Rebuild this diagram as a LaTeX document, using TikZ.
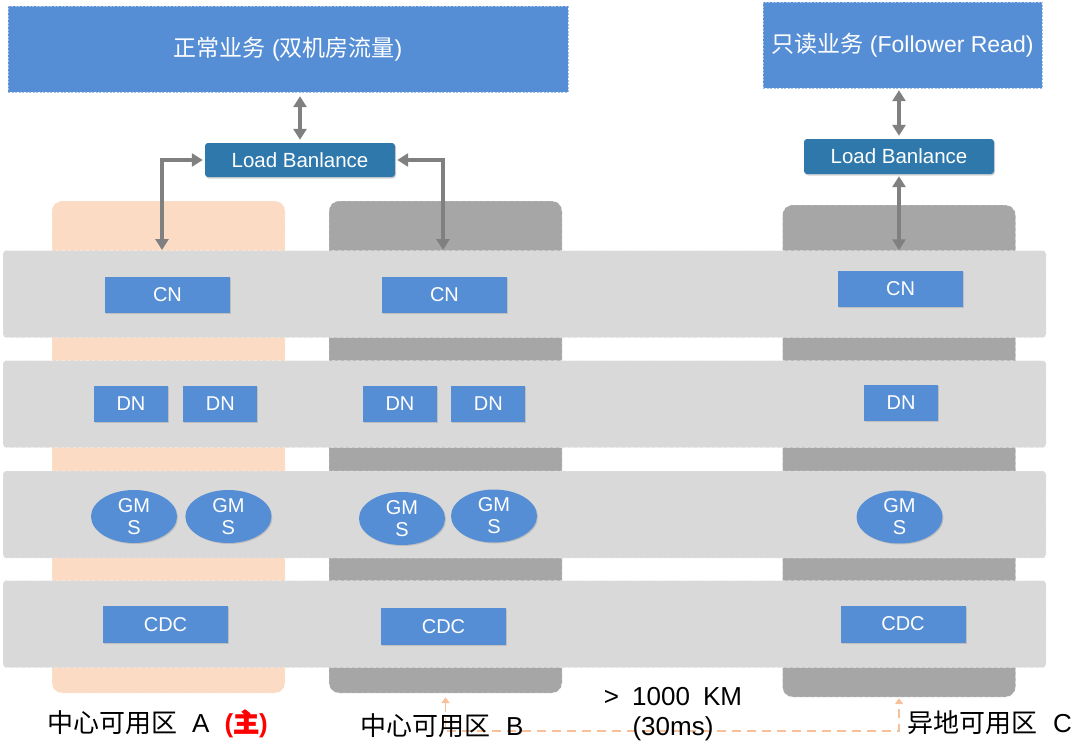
\documentclass[tikz,border=0pt]{standalone}
\usepackage{fontspec}
\setmainfont{Liberation Sans}
\newfontfamily\cjk{Noto Sans CJK SC}
\newfontfamily\cjkbold[FakeBold=2]{Noto Sans CJK SC}
\usepackage{tikz}
\usetikzlibrary{positioning,calc,shapes.geometric,arrows.meta,shadows}
\definecolor{myblue}{RGB}{85,142,213}
\definecolor{mylbblue}{RGB}{46,120,172}
\definecolor{mylayer}{RGB}{217,217,217}
\definecolor{myorange}{RGB}{251,219,195}
\definecolor{myzone}{RGB}{166,166,166}
\definecolor{myarrow}{RGB}{128,128,128}
\definecolor{mydist}{RGB}{247,192,152}
\newcommand*\nodefont{\fontsize{20}{22}\selectfont}
\newcommand*\labelfont{\fontsize{26}{30}\selectfont}
\newcommand*\zonegap{15pt}
\tikzstyle{biz}=[draw=myblue!55!white,dash pattern=on 2pt off 1.5pt,fill=myblue,text=white,font=\fontsize{23}{27}\selectfont,minimum height=86,inner sep=0pt]
\tikzstyle{lb}=[fill=mylbblue,rounded corners=3pt,text=white,font=\fontsize{20.5}{22}\selectfont,minimum width=190,minimum height=34,inner sep=0pt,drop shadow={opacity=0.35,shadow xshift=1pt,shadow yshift=-1.5pt}]
\tikzstyle{comp}=[fill=myblue,text=white,font=\nodefont,minimum width=125,minimum height=36,inner sep=0pt,drop shadow={opacity=0.3,shadow xshift=1pt,shadow yshift=-1pt}]
\tikzstyle{dn}=[comp,minimum width=74]
\tikzstyle{gms}=[comp,ellipse,minimum width=86,minimum height=53,align=center]
\tikzstyle{layer}=[draw=white,dashed,thin,fill=mylayer,rounded corners=3pt,minimum width=1043,minimum height=87]
\tikzstyle{zone}=[draw=white,dashed,thin,rounded corners=10pt,minimum width=233,minimum height=492]
\tikzstyle{arr}=[{Triangle[width=13pt,length=11pt]}-{Triangle[width=13pt,length=11pt]},line width=3.5pt,draw=myarrow]
\tikzstyle{dist}=[{Triangle[width=8pt,length=6pt]}-{Triangle[width=8pt,length=6pt]},line width=1.8pt,draw=mydist,dash pattern=on 9pt off 6pt]
\tikzstyle{zonelabel}=[font=\labelfont,inner sep=0pt,anchor=base west]

\begin{document}
\begin{tikzpicture}[x=1pt,y=-1pt]
      \useasboundingbox (0,0) rectangle (1080,747);
      % availability zones
      \node (zoneA) [zone, fill=myorange] at (168.5,447) {};
      \node (zoneB) [zone, fill=myzone] at (445.5,447) {};
      \node (zoneC) [zone, fill=myzone] at (899,451) {};
      % layers
      \foreach \y [count=\i] in {294,404,514.5,624}
        \node (L\i) [layer] at (524.5,\y) {};
      % business and load balance
      \node (bizA) [biz, minimum width=560] at (288,49) {{\cjk 正常业务} ({\cjk 双机房流量})};
      \node (bizB) [biz, minimum width=279] at (902.5,45) {{\cjk 只读业务} (Follower Read)};
      \node (lbA) [lb] at (300,160) {Load Banlance};
      \node (lbC) [lb, minimum height=35] at (899,156.5) {Load Banlance};
      % CN
      \node (CNA) [comp] at (167.5,295) {CN};
      \node (CNB) [comp] at (444.5,294.5) {CN};
      \node (CNC) [comp] at (900.5,289) {CN};
      % DN
      \node (DNA1) [dn] at (131,404) {DN};
      \node (DNA2) [dn, right=\zonegap of DNA1] {DN};
      \node (DNB1) [dn] at (400,404) {DN};
      \node (DNB2) [dn, right=14pt of DNB1] {DN};
      \node (DNC) [dn] at (901,403) {DN};
      % GMS
      \node (GMSA1) [gms] at (134,516.5) {GM\\S};
      \node (GMSA2) [gms, right=8pt of GMSA1] {GM\\S};
      \node (GMSB1) [gms] at (402,518.5) {GM\\S};
      \node (GMSB2) [gms] at (494,516) {GM\\S};
      \node (GMSC) [gms] at (899.5,517) {GM\\S};
      % CDC
      \node (CDCA) [comp, minimum height=37] at (165.5,624.5) {CDC};
      \node (CDCB) [comp, minimum height=37] at (443.5,626.5) {CDC};
      \node (CDCC) [comp, minimum height=37] at (903,624) {CDC};
      % arrows
      \coordinate (inA) at (162,250);
      \coordinate (inB) at (443,250);
      \draw[arr, shorten <=3pt, shorten >=4pt] (lbA.north) -- (lbA.north |- bizA.south);
      \draw[arr, shorten <=2pt] (lbA.west) -| (inA);
      \draw[arr, shorten <=2pt] (lbA.east) -| (inB);
      \draw[arr, shorten <=3pt, shorten >=2pt] (lbC.north) -- (lbC.north |- bizB.south);
      \draw[arr, shorten <=2pt] (lbC.south) -- (lbC.south |- L1.north);
      % distance
      \draw[dist, shorten <=4pt, shorten >=1pt] (zoneB.south) -- ++(0,38) -| (zoneC.south);
      \node (dkm) [font=\labelfont, align=center, inner sep=0pt, anchor=base] at (673,735) {>\hspace{0.5em}1000\hspace{0.5em}KM\\(30ms)};
      % labels
      \node (labA) [zonelabel] at (47,732) {{\cjk 中心可用区}\hspace{15pt}A\hspace{15pt}\textcolor{red}{\bfseries({\cjkbold 主})}};
      \node (labB) [zonelabel] at (360,735) {{\cjk 中心可用区}\hspace{16pt}B};
      \node (labC) [zonelabel] at (907,732) {{\cjk 异地可用区}\hspace{16pt}C};
    \end{tikzpicture}
\end{document}
